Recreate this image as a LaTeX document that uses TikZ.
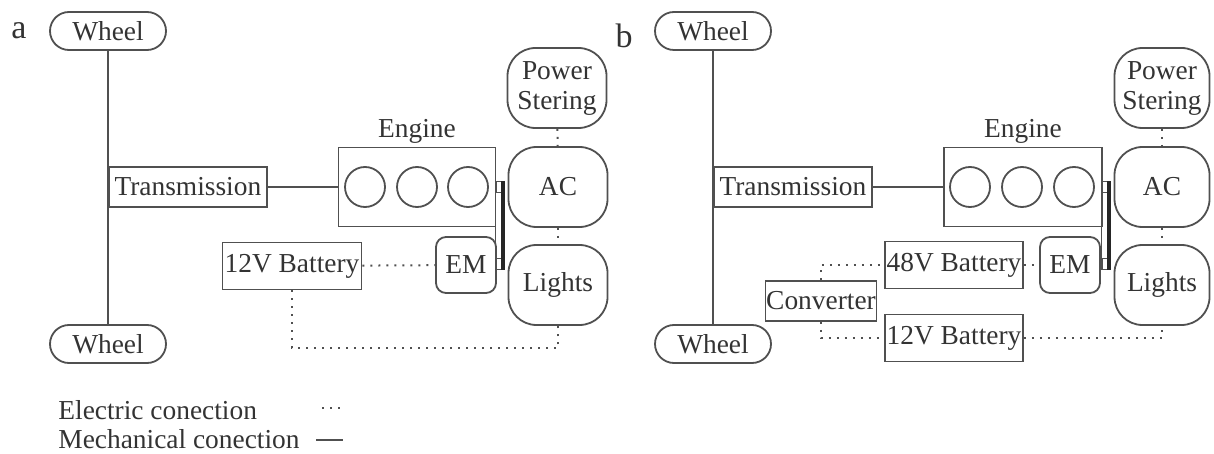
\documentclass[tikz,border=0pt]{standalone}
\usepackage{fontspec}
\setmainfont{Liberation Serif}
\definecolor{ink}{HTML}{505050}
\definecolor{txt}{HTML}{333333}
\begin{document}
\begin{tikzpicture}[x=0.5pt,y=-0.5pt,
  every node/.style={font=\fontsize{13.7}{15}\selectfont,text=txt,inner sep=0pt},
  tag/.style={font=\fontsize{17}{18}\selectfont},
  box/.style={draw=ink,line width=0.9pt},
  pill/.style={draw=ink,line width=0.9pt,rounded corners=9.5pt,minimum width=58pt,minimum height=19pt},
  blob/.style={draw=ink,line width=0.9pt,rounded corners=14pt,minimum width=49.5pt,minimum height=40pt,align=center},
  emb/.style={draw=ink,line width=0.9pt,rounded corners=5pt,minimum width=30pt,minimum height=28pt},
  cyl/.style={draw=ink,line width=0.9pt,circle,minimum size=20pt},
  pul/.style={draw=ink,line width=0.6pt,minimum width=4pt,minimum height=5.5pt},
  mech/.style={draw=ink,line width=0.9pt},
  elec/.style={draw=ink,line width=1pt,dash pattern=on 1pt off 3pt},
  belt/.style={draw=black!85,line width=1.6pt}]
\useasboundingbox (0,0) rectangle (1214,454);

% ---- panel a
\node[tag] (la) at (19,31) {a};
\node[pill] (wa1) at (108,31) {Wheel};
\node[pill] (wa2) at (108,344) {Wheel};
\draw[mech] (wa1) -- (wa2);
\node[box,minimum width=79pt,minimum height=20pt,anchor=west,fill=white] (ta) at (108,187) {Transmission};
\node[box,minimum width=78.5pt,minimum height=39.5pt] (ea) at (417,187) {};
\node (ealbl) at (417,131) {Engine};
\foreach \cx [count=\i] in {365,417,468} \node[cyl] (ca\i) at (\cx,187) {};
\draw[mech] (ta) -- (ea);
\node[pul] (pa1) at (500,187) {};
\node[emb] (ema) at (466,265) {EM};
\node[pul] (pa2) at (500,264) {};
\draw[mech] (pa1.north west) -- (pa2.south west);
\draw[belt] ([xshift=-0.8pt]pa1.north east) -- ([xshift=-0.8pt]pa2.south east);
\node[box,minimum width=69.5pt,minimum height=23.5pt] (bata) at (292,266) {12V Battery};
\node[blob] (psa) at (557,88) {Power\\Stering};
\node[blob] (aca) at (558,187) {AC};
\node[blob] (lta) at (558,285) {Lights};
\draw[elec] (bata) -- (ema);
\draw[elec] (psa) -- (aca);
\draw[elec] (aca) -- (lta);
\draw[elec] (bata.south) -- ++(0,58) -| (lta.south);

% ---- panel b
\node[tag] (lb) at (624,36) {b};
\node[pill] (wb1) at (713,31) {Wheel};
\node[pill] (wb2) at (713,344) {Wheel};
\draw[mech] (wb1) -- (wb2);
\node[box,minimum width=79pt,minimum height=20pt,anchor=west,fill=white] (tb) at (713,187) {Transmission};
\node[box,minimum width=79pt,minimum height=39.5pt] (eb) at (1023,187) {};
\node (eblbl) at (1023,131) {Engine};
\foreach \cx [count=\i] in {970,1022,1074} \node[cyl] (cb\i) at (\cx,187) {};
\draw[mech] (tb) -- (eb);
\node[pul] (pb1) at (1106,187) {};
\node[emb] (emb) at (1070,265) {EM};
\node[pul] (pb2) at (1106,264) {};
\draw[mech] (pb1.north west) -- (pb2.south west);
\draw[belt] ([xshift=-0.8pt]pb1.north east) -- ([xshift=-0.8pt]pb2.south east);
\node[box,minimum width=69pt,minimum height=23.5pt] (b48) at (954,265) {48V Battery};
\node[box,minimum width=69pt,minimum height=23.5pt] (b12) at (954,338) {12V Battery};
\node[box,minimum width=55.5pt,minimum height=20pt] (conv) at (821,301) {Converter};
\node[blob,minimum width=47.5pt] (psb) at (1162,88) {Power\\Stering};
\node[blob,minimum width=47.5pt] (acb) at (1162,187) {AC};
\node[blob,minimum width=47.5pt] (ltb) at (1162,285) {Lights};
\draw[elec] (b48) -- (emb);
\draw[elec] (psb) -- (acb);
\draw[elec] (acb) -- (ltb);
\draw[elec] (conv.north) |- (b48.west);
\draw[elec] (conv.south) |- (b12.west);
\draw[elec] (b12.east) -| (ltb.south);

% ---- legend
\node[anchor=west] (lgel) at (58,410) {Electric conection};
\node[anchor=west] (lgme) at (58,439) {Mechanical conection};
\coordinate (ela) at (322,408);
\coordinate (elb) at (344,408);
\coordinate (mea) at (316,440);
\coordinate (meb) at (343,440);
\draw[elec] (ela) -- (elb);
\draw[mech] (mea) -- (meb);
\end{tikzpicture}
\end{document}
